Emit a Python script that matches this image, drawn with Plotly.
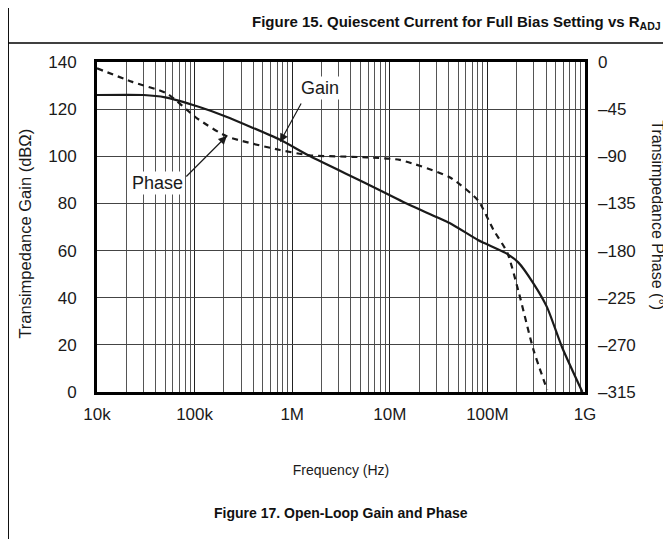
import plotly.graph_objects as go

# Open-loop transimpedance gain (solid) and phase (dashed)
gain_freq = [1e4, 3e4, 5e4, 1.1e5, 2.05e5, 7.5e5, 1.53e6, 5.6e6, 1.6e7, 4.1e7,
             8e7, 1.53e8, 2.07e8, 2.97e8, 4.08e8, 5.82e8, 9.4e8]
gain_db = [126, 126, 125, 121, 117, 107, 100, 88.7, 79.3, 71.7,
           64.5, 59, 55, 46, 36, 19, 0]

phase_freq = [1e4, 2.3e4, 5.2e4, 1.05e5, 2.14e5, 7.5e5, 1.5e6, 5.8e6, 1.27e7,
              4.1e7, 8e7, 1.15e8, 1.6e8, 2.07e8, 2.97e8, 4.1e8]
phase_deg = [-6, -19, -30, -53.5, -71, -84, -89, -91, -93.5,
             -110, -132, -160, -182, -218, -275, -313]

x_ticks = [1e4, 1e5, 1e6, 1e7, 1e8, 1e9]
x_labels = ["10k", "100k", "1M", "10M", "100M", "1G"]
x_minor = [m * 10 ** d for d in range(4, 9) for m in range(2, 10)]
gain_ticks = [0, 20, 40, 60, 80, 100, 120, 140]
phase_ticks = [0, -45, -90, -135, -180, -225, -270, -315]
phase_labels = ["0" if v == 0 else "\u2013" + str(-v) for v in phase_ticks]

FONT = "Liberation Sans, Arial, sans-serif"
INK = "#1a1a1a"

fig = go.Figure()
fig.add_trace(go.Scatter(x=gain_freq, y=gain_db, mode="lines", name="Gain",
                         line=dict(color=INK, width=2.2, shape="spline", smoothing=0.6)))
fig.add_trace(go.Scatter(x=phase_freq, y=phase_deg, mode="lines", name="Phase", yaxis="y2",
                         line=dict(color=INK, width=2.2, dash="6px,5px",
                                   shape="spline", smoothing=0.6)))

# page body adds an 8px offset, so the figure is 8px smaller than the window
fig.update_layout(
    width=663, height=531,
    margin=dict(l=89, r=86, t=54, b=147),
    plot_bgcolor="white", paper_bgcolor="white",
    font=dict(family=FONT, size=14, color=INK),
    showlegend=False,
    xaxis=dict(
        type="log", range=[4, 9], automargin=False,
        tickvals=x_ticks, ticktext=x_labels, tickfont=dict(size=17),
        showgrid=True, gridcolor="#222222", gridwidth=1,
        minor=dict(tickvals=x_minor, showgrid=True, gridcolor="#555555", gridwidth=1, ticks=""),
        showline=True, linecolor="black", linewidth=3, mirror=True,
        ticks="", zeroline=False, ticklabelstandoff=5,
        title=dict(text="Frequency (Hz)", font=dict(size=14), standoff=42),
    ),
    yaxis=dict(
        range=[0, 140], tickvals=gain_ticks, tickfont=dict(size=17), automargin=False,
        showgrid=True, gridcolor="#444444", gridwidth=1,
        showline=True, linecolor="black", linewidth=3, mirror=True,
        ticks="", zeroline=False, ticklabelstandoff=14,
    ),
    yaxis2=dict(
        range=[-315, 0], tickvals=phase_ticks, ticktext=phase_labels, tickfont=dict(size=17),
        overlaying="y", side="right", showgrid=False, zeroline=False, ticks="",
        ticklabelstandoff=12, automargin=False,
    ),
)

# callout arrows and their labels
fig.add_annotation(x=5.875, y=106, xref="x", yref="y", ax=6.1, ay=123, axref="x", ayref="y",
                   text="", showarrow=True, arrowhead=2, arrowsize=1.4, arrowwidth=1.2,
                   arrowcolor=INK)
fig.add_annotation(x=5.33, y=-70.6, xref="x", yref="y2", ax=4.9, ay=-110.7, axref="x", ayref="y2",
                   text="", showarrow=True, arrowhead=2, arrowsize=1.4, arrowwidth=1.2,
                   arrowcolor=INK)
fig.add_annotation(x=0.457, y=0.921, xref="paper", yref="paper", xanchor="center", yanchor="middle",
                   text="Gain", showarrow=False, bgcolor="white", font=dict(size=18))
fig.add_annotation(x=0.123, y=0.633, xref="paper", yref="paper", xanchor="center", yanchor="middle",
                   text="Phase", showarrow=False, bgcolor="white", font=dict(size=18))

# axis titles
fig.add_annotation(x=-0.1475, y=0.48, xref="paper", yref="paper", xanchor="center", yanchor="middle",
                   text="Transimpedance Gain (dB\u03a9)", textangle=-90, showarrow=False,
                   font=dict(size=16.5))
fig.add_annotation(x=1.148, y=0.535, xref="paper", yref="paper", xanchor="center", yanchor="middle",
                   text="Transimpedance Phase (\u00b0)", textangle=90, showarrow=False,
                   font=dict(size=16))

# page elements around the chart
fig.add_annotation(x=1.16, y=1.121, xref="paper", yref="paper", xanchor="right", yanchor="middle",
                   text="<b>Figure 15. Quiescent Current for Full Bias Setting vs R<sub>ADJ</sub></b>",
                   showarrow=False, font=dict(size=15, color="#111"))
fig.add_annotation(x=0.5, y=-0.366, xref="paper", yref="paper", xanchor="center", yanchor="middle",
                   text="<b>Figure 17. Open-Loop Gain and Phase</b>",
                   showarrow=False, font=dict(size=14, color="#111"))
fig.add_shape(type="line", xref="paper", yref="paper", x0=-0.182, x1=-0.182, y0=-0.5, y1=1.2,
              line=dict(color="black", width=1.5))
fig.add_shape(type="line", xref="paper", yref="paper", x0=-0.182, x1=1.2, y0=1.0576, y1=1.0576,
              line=dict(color="black", width=1.5))

fig.write_html("out.html")
